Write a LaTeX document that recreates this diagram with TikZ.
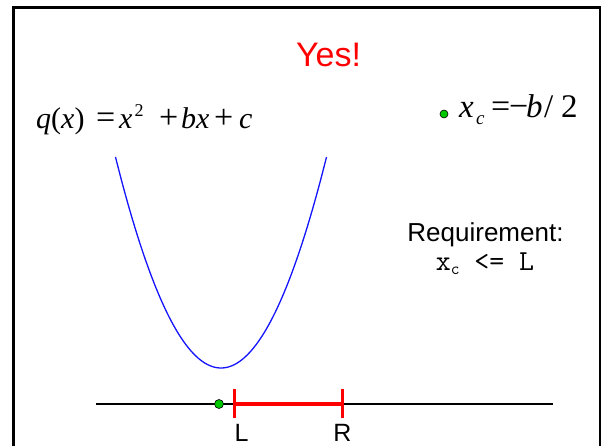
\documentclass[tikz,border=0pt]{standalone}
\usepackage{fontspec}
\setmainfont{Liberation Sans}
\newfontfamily\tnr{Liberation Serif}
\definecolor{dotgreen}{RGB}{0,200,0}
\definecolor{pblue}{RGB}{20,20,255}
\newcommand{\seg}[2]{\makebox[#1pt][l]{#2}}
\newcommand{\bigop}[1]{{\fontsize{34}{34}\selectfont #1}}
\begin{document}
\begin{tikzpicture}[x=1pt,y=-1pt,
  lbl/.style={inner sep=0pt,font=\fontsize{26}{30}\selectfont},
  mathtxt/.style={inner sep=0pt,font=\tnr\fontsize{30}{34}\selectfont},
  gdot/.style={circle,fill=dotgreen,draw=black,line width=0.6pt,inner sep=0pt,minimum size=9pt}]
\useasboundingbox (0,0) rectangle (602,446);
% frame
\draw[line width=3pt] (13.5,470) -- (13.5,7.5) -- (600,7.5);
\draw[line width=2pt] (600,6) -- (600,470);
% title
\node[inner sep=0pt,anchor=base,text=red,font=\fontsize{34}{38}\selectfont] (title) at (328.5,67) {Yes!};
% formula
\node[mathtxt,anchor=base west] (q) at (36,129) {\seg{60}{\textit{q}(\textit{x})}\seg{23}{\bigop{=}}\seg{40}{\textit{x}\hspace{2pt}\raisebox{12pt}{\fontsize{18}{18}\selectfont 2}}\seg{22}{\bigop{+}}\seg{33}{\textit{bx}}\seg{25}{\bigop{+}}\textit{c}};
% x_c
\node[gdot,minimum size=8pt] (xcdot) at (444,114) {};
\node[mathtxt,anchor=base west,font=\tnr\fontsize{33}{36}\selectfont] (xc) at (459,118) {\seg{17}{\textit{x}}\seg{15}{\raisebox{-7pt}{\fontsize{19}{19}\selectfont\textit{c}}}\seg{18}{\bigop{=}}\seg{17}{\bigop{\textminus}}\seg{18}{\textit{b}}\seg{17}{/}2};
% requirement
\node[lbl,anchor=base] (req) at (485.5,242) {Requirement:};
\node[inner sep=0pt,anchor=base,font=\ttfamily\fontsize{29}{32}\selectfont] (cond) at (485,270) {x\raisebox{-5pt}{\fontsize{17}{17}\selectfont c} <= L};
% parabola
\draw[pblue,line width=1.3pt] plot[domain=115.5:326.5,samples=100] (\x,{368-211*((\x-221)/105.5)^2});
% axis
\coordinate (axL) at (96,404);
\coordinate (axR) at (553,404);
\draw[line width=1.2pt] (axL) -- (axR);
% interval
\coordinate (Lp) at (234,404);
\coordinate (Rp) at (342,404);
\draw[red,line width=4.5pt] (Lp) -- (Rp);
\draw[red,line width=3pt] ([yshift=-14pt]Lp) -- ([yshift=15pt]Lp);
\draw[red,line width=3pt] ([yshift=-14pt]Rp) -- ([yshift=15pt]Rp);
\node[gdot] (xcpt) at (219,404) {};
\node[lbl,anchor=base,font=\fontsize{25}{28}\selectfont] (Llbl) at (241.5,441) {L};
\node[lbl,anchor=base,font=\fontsize{25}{28}\selectfont] (Rlbl) at (342.5,441) {R};
\end{tikzpicture}
\end{document}
